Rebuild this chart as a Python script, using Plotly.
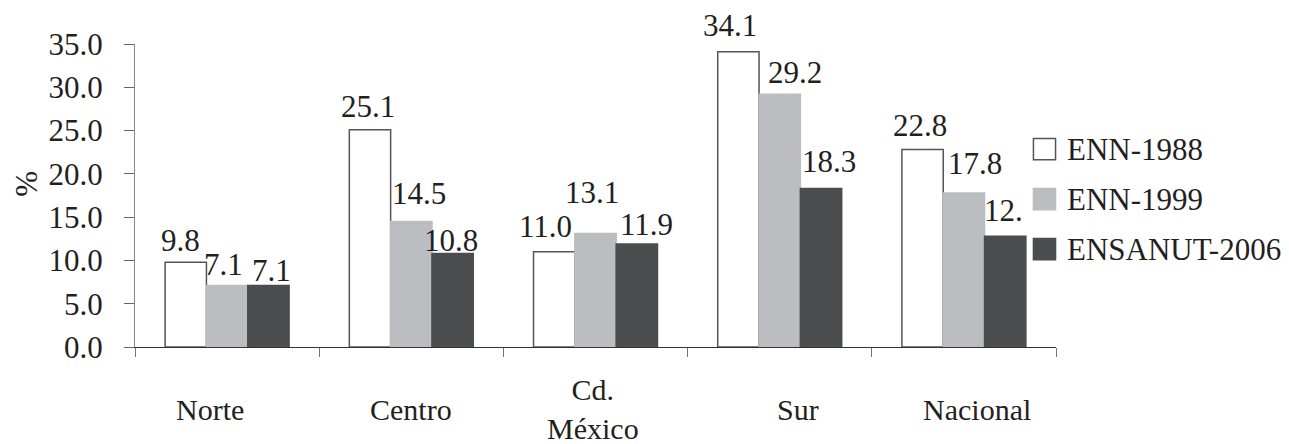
import plotly.graph_objects as go

categories = ["Norte", "Centro", "Cd. México", "Sur", "Nacional"]
category_labels = ["Norte", "Centro", "Cd.<br>México", "Sur", "Nacional"]
series_names = ["ENN-1988", "ENN-1999", "ENSANUT-2006"]
enn_1988 = [9.8, 25.1, 11.0, 34.1, 22.8]
enn_1999 = [7.1, 14.5, 13.1, 29.2, 17.8]
ensanut_2006 = [7.1, 10.8, 11.9, 18.3, 12.8]
labels_1988 = ["9.8", "25.1", "11.0", "34.1", "22.8"]
labels_1999 = ["7.1", "14.5", "13.1", "29.2", "17.8"]
labels_2006 = ["7.1", "10.8", "11.9", "18.3", "12."]
y_ticks = [0, 5, 10, 15, 20, 25, 30, 35]

# --- styling / placement (not data) ---
FONT = "Liberation Serif"
FS = 31
TXT = "#231f20"
fills = ["#ffffff", "#bcbdc0", "#4b4c4e"]
outlines = ["#555555", "#bcbdc0", "#4b4c4e"]
cat_label_dx = [-17, 0, -3, 18, 13]
# per-series, per-category value-label nudges (px): horizontal and gap above bar
val_label_dx = [[-5, -2, -9, -8, -3], [-4, 8, -4, 15, 11], [3, -2, 10, 8, -2]]
val_label_gap = [[10, 12, 14, 15, 13], [10, 16, 30, 10, 18], [4, 2, 8, 16, 14]]
PLOT_W = 921
BAR_W = PLOT_W / len(categories) * (1 - 0.327) / 3
DESC = 8

fig = go.Figure()
all_vals = [enn_1988, enn_1999, ensanut_2006]
all_labs = [labels_1988, labels_1999, labels_2006]
for si, (name, vals, fc, lc) in enumerate(zip(series_names, all_vals, fills, outlines)):
    fig.add_trace(go.Bar(
        x=categories, y=vals, name=name,
        marker=dict(color=fc, line=dict(color=lc, width=1.5)),
        showlegend=False,
    ))

# value labels
for si, (vals, labs) in enumerate(zip(all_vals, all_labs)):
    for ci, (cat, v, lab) in enumerate(zip(categories, vals, labs)):
        fig.add_annotation(x=cat, xref="x", y=v, yref="y", text=lab, showarrow=False,
                           xanchor="center", yanchor="bottom",
                           xshift=(si - 1) * BAR_W + val_label_dx[si][ci],
                           yshift=val_label_gap[si][ci] - DESC,
                           font=dict(family=FONT, size=FS, color=TXT))

# category labels
for cat, lab, dx in zip(categories, category_labels, cat_label_dx):
    fig.add_annotation(x=cat, xref="x", y=-0.205, yref="paper", text=lab, showarrow=False,
                       xanchor="center", yanchor="middle", xshift=dx,
                       font=dict(family=FONT, size=FS - 1, color=TXT))

# custom legend
leg_y = [0.653, 0.488, 0.323]
for name, fc, lc, yy in zip(series_names, fills, outlines, leg_y):
    fig.add_shape(type="rect", xref="paper", yref="paper",
                  x0=0.9755, x1=0.9995, y0=yy - 0.035, y1=yy + 0.035,
                  fillcolor=fc, line=dict(color=lc, width=1.5))
    fig.add_annotation(x=1.0098, xref="paper", y=yy, yref="paper", text=name, showarrow=False,
                       xanchor="left", yanchor="middle",
                       font=dict(family=FONT, size=FS, color=TXT))

# y title
fig.add_annotation(x=-0.118, xref="paper", y=0.54, yref="paper", text="%", showarrow=False,
                   textangle=-90, xanchor="center", yanchor="middle",
                   font=dict(family=FONT, size=FS, color=TXT))

# page body has an 8px margin, so the figure is sized/offset to land the plot area correctly
fig.update_layout(
    width=1281, height=436,
    margin=dict(l=127, r=233, t=36, b=97),
    plot_bgcolor="white", paper_bgcolor="white",
    barmode="group", bargap=0.327, bargroupgap=0,
    font=dict(family=FONT, size=FS, color=TXT),
)
fig.update_xaxes(type="category", range=[-0.5, 4.5], showticklabels=False,
                 showline=True, linecolor="#333333", linewidth=1,
                 ticks="outside", tickson="boundaries", ticklen=9, tickcolor="#777777",
                 showgrid=False, zeroline=False)
fig.update_yaxes(range=[0, 35], tickvals=y_ticks, tickformat=".1f",
                 showline=True, linecolor="#888888", linewidth=1,
                 ticks="outside", ticklen=10, tickcolor="#666666",
                 ticklabelstandoff=15,
                 tickfont=dict(family=FONT, size=FS, color=TXT),
                 showgrid=False, zeroline=False)

fig.write_html("out.html")
